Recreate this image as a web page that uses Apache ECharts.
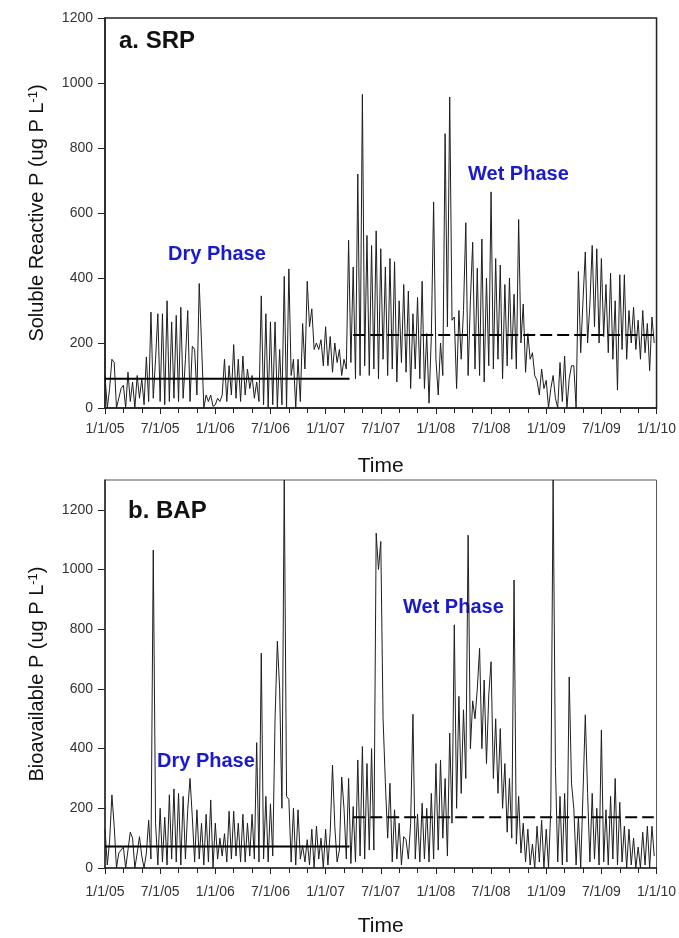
<!doctype html>
<html lang="en">
<head>
<meta charset="UTF-8">
<title>SRP and BAP</title>
<style>
	html, body { margin: 0; padding: 0; background: #fff; }
	#main { width: 679px; height: 938px; }
</style>
</head>
<body>
<div id="main"></div>
<script src="https://cdn.jsdelivr.net/npm/echarts@6/dist/echarts.min.js"></script>
<script>
	// weekly readings, 4 per month, starting 1/1/05 (x axis is in months)
	var srp2005 = [100,0,60,150, 140,0,30,60, 70,0,110,20, 80,0,100,30, 90,10,157,20, 295,30,150,290,
		20,290,10,330, 20,265,30,285, 20,310,30,150, 300,20,190,180, 40,383,200,0, 40,20,40,5];
	var srp2006 = [10,30,20,40, 150,20,130,40, 195,30,150,20, 160,40,120,60, 100,30,80,20, 345,10,290,0,
		265,10,265,0, 180,10,405,0, 428,100,150,0, 150,20,260,120, 390,250,305,180, 200,180,210,130];
	var srp2007 = [250,130,220,110, 200,140,180,100, 150,120,516,140, 434,90,720,100, 965,130,531,100, 500,120,545,90,
		490,150,434,100, 460,120,450,80, 330,140,380,110, 360,60,290,120, 340,90,390,60, 229,15,220,634];
	var srp2008 = [150,40,200,100, 844,250,957,270, 280,60,300,150, 300,570,100,330, 510,120,430,100, 520,80,400,130,
		665,120,460,150, 440,90,380,130, 400,150,350,120, 580,200,320,110, 229,150,170,100, 85,40,120,60];
	var srp2009 = [85,0,60,100, 30,0,140,20, 160,0,90,130, 130,0,420,170, 330,480,200,320, 500,250,490,200,
		460,220,380,170, 415,150,330,55, 410,180,410,150, 300,200,310,180, 270,150,300,170, 260,115,280,200];

	var bap2005 = [130,10,90,245, 140,0,50,60, 70,0,60,120, 100,0,50,105, 40,0,50,160, 30,1065,150,10,
		200,20,170,10, 245,30,265,20, 250,10,240,30, 195,300,170,20, 195,30,150,10, 180,20,228,0];
	var bap2006 = [150,30,100,40, 115,20,190,30, 190,40,150,20, 180,20,150,40, 180,30,420,20, 720,30,240,20,
		215,40,500,760, 600,200,1300,240, 230,20,200,10, 195,30,75,20, 95,10,130,0, 140,30,100,0];
	var bap2007 = [130,10,120,345, 140,20,60,305, 200,30,300,15, 206,20,362,40, 407,30,350,60, 400,60,1122,1000,
		1094,500,285,100, 284,20,195,30, 150,10,105,95, 30,150,515,30, 180,20,217,30, 200,20,250,30];
	var bap2008 = [350,60,362,100, 300,40,452,150, 815,200,575,250, 530,300,1115,400, 560,500,600,736, 400,630,350,580,
		691,300,500,250, 467,200,350,120, 300,100,965,80, 240,50,150,20, 130,10,80,0, 140,20,160,0];
	var bap2009 = [130,0,200,1300, 340,20,240,10, 250,20,640,284, 200,10,171,0, 250,513,250,20, 250,30,200,10,
		462,20,195,10, 240,30,300,10, 220,20,140,0, 130,10,100,0, 70,0,120,10, 140,0,140,40];

	// phase means (dry, wet) and where each phase starts / ends, in months
	var phaseStart = [0, 27];
	var phaseEnd = [26.6, 59.7];
	var srpMean = [90, 225];
	var bapMean = [72, 170];

	var xTickLabels = ['1/1/05', '7/1/05', '1/1/06', '7/1/06', '1/1/07', '7/1/07',
		'1/1/08', '7/1/08', '1/1/09', '7/1/09', '1/1/10'];

	var srp = srp2005.concat(srp2006, srp2007, srp2008, srp2009);
	var bap = bap2005.concat(bap2006, bap2007, bap2008, bap2009);

	function toPoints(vals) {
		return vals.map(function (v, i) { return [i / 4, v]; });
	}
	function meanLine(means, k) {
		return [[phaseStart[k], means[k]], [phaseEnd[k], means[k]]];
	}

	var font = 'Liberation Sans, Arial, sans-serif';
	var blue = '#1a1acc';

	function xAxisFor(idx, margin) {
		return {
			type: 'value', gridIndex: idx, min: 0, max: 60, interval: 6,
			name: 'Time', nameLocation: 'middle', nameGap: 48,
			nameTextStyle: { fontSize: 21, color: '#111', fontFamily: font },
			axisLine: { lineStyle: { color: '#222', width: 1.5 } },
			axisTick: { length: 6, lineStyle: { color: '#222' } },
			minorTick: { show: true, splitNumber: 3, length: 5, lineStyle: { color: '#222' } },
			splitLine: { show: false },
			axisLabel: {
				margin: margin, fontSize: 14, color: '#333', fontFamily: font,
				formatter: function (v) { return xTickLabels[Math.round(v / 6)]; }
			}
		};
	}
	function yAxisFor(idx, max, label) {
		return {
			type: 'value', gridIndex: idx, min: 0, max: max, interval: 200,
			name: '{t|' + label + ' (ug P L}{s|-1}{t|)}',
			nameLocation: 'middle', nameGap: 58,
			nameTextStyle: {
				color: '#111', fontFamily: font,
				rich: {
					t: { fontSize: 20, color: '#111', fontFamily: font },
					s: { fontSize: 13, color: '#111', fontFamily: font, verticalAlign: 'top' }
				}
			},
			axisLine: { lineStyle: { color: '#222', width: 1.5 } },
			axisTick: { length: 7, lineStyle: { color: '#222' } },
			splitLine: { show: false },
			axisLabel: {
				margin: 12, fontSize: 14, color: '#333', fontFamily: font, showMaxLabel: max === 1200,
				formatter: function (v) { return String(v); }
			}
		};
	}

	var myChart = echarts.init(document.getElementById('main'), null, { renderer: 'canvas' });

	var option = {
		animation: false,
		backgroundColor: '#fff',
		grid: [
			{ left: 105, right: 17, top: 18, height: 390, show: true, borderColor: '#222', borderWidth: 1.5 },
			{ left: 105, right: 17, top: 480, height: 388, show: true, borderColor: '#555', borderWidth: 1 }
		],
		xAxis: [xAxisFor(0, 14), xAxisFor(1, 17)],
		yAxis: [yAxisFor(0, 1200, 'Soluble Reactive P'), yAxisFor(1, 1300, 'Bioavailable P')],
		graphic: [
			{ type: 'text', left: 119, top: 29, style: { text: 'a. SRP', font: 'bold 24px ' + font, fill: '#111' } },
			{ type: 'text', left: 168, top: 244, style: { text: 'Dry Phase', font: 'bold 20px ' + font, fill: blue } },
			{ type: 'text', left: 468, top: 164, style: { text: 'Wet Phase', font: 'bold 20px ' + font, fill: blue } },
			{ type: 'text', left: 128, top: 499, style: { text: 'b. BAP', font: 'bold 24px ' + font, fill: '#111' } },
			{ type: 'text', left: 157, top: 751, style: { text: 'Dry Phase', font: 'bold 20px ' + font, fill: blue } },
			{ type: 'text', left: 403, top: 597, style: { text: 'Wet Phase', font: 'bold 20px ' + font, fill: blue } }
		],
		series: [
			{
				type: 'line', xAxisIndex: 0, yAxisIndex: 0, data: toPoints(srp),
				showSymbol: false, symbol: 'none', lineStyle: { color: '#1e1e1e', width: 1 }
			},
			{
				type: 'line', xAxisIndex: 0, yAxisIndex: 0, data: meanLine(srpMean, 0),
				symbol: 'none', lineStyle: { color: '#000', width: 2 }
			},
			{
				type: 'line', xAxisIndex: 0, yAxisIndex: 0, data: meanLine(srpMean, 1),
				symbol: 'none', lineStyle: { color: '#000', width: 2, type: [12, 5] }
			},
			{
				type: 'line', xAxisIndex: 1, yAxisIndex: 1, data: toPoints(bap),
				showSymbol: false, symbol: 'none', lineStyle: { color: '#1e1e1e', width: 1 }
			},
			{
				type: 'line', xAxisIndex: 1, yAxisIndex: 1, data: meanLine(bapMean, 0),
				symbol: 'none', lineStyle: { color: '#000', width: 2 }
			},
			{
				type: 'line', xAxisIndex: 1, yAxisIndex: 1, data: meanLine(bapMean, 1),
				symbol: 'none', lineStyle: { color: '#000', width: 2, type: [12, 5] }
			}
		]
	};
	myChart.setOption(option);
</script>
</body>
</html>
